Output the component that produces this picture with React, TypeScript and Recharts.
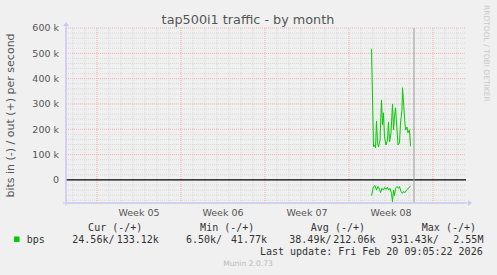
import React from "react";
import { LineChart, Line, XAxis, YAxis, ReferenceLine } from "recharts";

// hours relative to the start of Week 05
const OUT_HOURS = [549, 553, 555, 557, 559, 561, 563, 566, 569, 571, 573, 575, 578, 581, 583, 585, 588, 591, 593, 595, 597, 600, 602, 605, 607, 610, 611, 613, 615, 617, 620, 622, 625, 627];
const OUT_KBPS = [518, 132, 138, 126, 233, 146, 130, 158, 316, 217, 265, 170, 138, 158, 229, 150, 186, 300, 198, 249, 285, 198, 138, 146, 225, 277, 364, 308, 249, 198, 209, 186, 198, 133];
const IN_HOURS = [549, 553, 556, 559, 562, 565, 567, 570, 573, 575, 578, 581, 583, 586, 589, 591, 593, 595, 597, 600, 603, 605, 608, 611, 613, 616, 619, 621, 624, 627];
const IN_KBPS = [62, 26, 22, 40, 26, 37, 50, 33, 40, 30, 37, 29, 40, 33, 53, 86, 40, 62, 33, 26, 33, 26, 46, 53, 46, 50, 40, 37, 29, 25];

const WEEK_STARTS = [0, 168, 336, 504, 672];
const WEEK_TICKS = [84, 252, 420, 588];
const WEEK_LABELS = ["Week 05", "Week 06", "Week 07", "Week 08"];
const NOW_HOUR = 634;
const X_DOMAIN = [-62, 738];

const Y_TICKS = [0, 100000, 200000, 300000, 400000, 500000, 600000];
const Y_DOMAIN = [-91000, 600000];

const STAT_NAMES = ["Cur (-/+)", "Min (-/+)", "Avg (-/+)", "Max (-/+)"];
const STAT_IN = ["24.56k", "6.50k", "38.49k", "931.43k"];
const STAT_OUT = ["133.12k", "41.77k", "212.06k", "2.55M"];

const outData = OUT_HOURS.map((h, i) => ({ h, v: OUT_KBPS[i] * 1000 }));
const inData = IN_HOURS.map((h, i) => ({ h, v: -IN_KBPS[i] * 1000 }));

const minorY: number[] = [];
for (let v = -80000; v < 600000; v += 20000) if (v % 100000 !== 0) minorY.push(v);
const minorX: number[] = [];
for (let h = -48; h <= 720; h += 24) if (h % 168 !== 0) minorX.push(h);
const majorY = Y_TICKS.filter((v) => v !== 0);

const W = 497;
const H = 275;
// plot box
const PL = 66, PR = 466, PT = 28, PB = 203;

const HEAD_X = [142.3, 254.3, 365, 476];
const IN_X = [72.3, 186, 289.3, 390.7];
const OUT_X = [116.7, 231, 333.3, 453.3];

const sans = "'DejaVu Sans', sans-serif";
const mono = "'DejaVu Sans Mono', monospace";
const axisBlue = "#c8c8f0";
const minorGrid = "#d8d8d8";
const majorGrid = "#eeb0b0";

export default function App() {
  return (
    <div style={{ position: "absolute", left: 0, top: 0, width: W, height: H, background: "#f0f0f0" }}>
      <LineChart
        width={W}
        height={H}
        margin={{ top: PT, right: W - PR, bottom: 0, left: 0 }}
        style={{ fontFamily: sans }}
      >
        <XAxis
          type="number"
          dataKey="h"
          domain={X_DOMAIN}
          allowDataOverflow
          ticks={WEEK_TICKS}
          tickFormatter={(v) => WEEK_LABELS[WEEK_TICKS.indexOf(v)] ?? ""}
          tick={{ fill: "#555", fontSize: 9.5 }}
          tickLine={false}
          tickSize={0}
          tickMargin={6}
          axisLine={{ stroke: axisBlue }}
          height={H - PB}
          interval={0}
        />
        <YAxis
          type="number"
          domain={Y_DOMAIN}
          allowDataOverflow
          ticks={Y_TICKS}
          tickFormatter={(v) => (v === 0 ? "0" : `${v / 1000} k`)}
          tick={{ fill: "#555", fontSize: 9.5 }}
          tickLine={false}
          tickSize={0}
          tickMargin={7}
          axisLine={{ stroke: axisBlue }}
          width={PL}
          interval={0}
        />
        {minorY.map((v) => (
          <ReferenceLine key={`my${v}`} y={v} stroke={minorGrid} strokeDasharray="1 1" />
        ))}
        {minorX.map((h) => (
          <ReferenceLine key={`mx${h}`} x={h} stroke={minorGrid} strokeDasharray="1 1" />
        ))}
        {majorY.map((v) => (
          <ReferenceLine key={`My${v}`} y={v} stroke={majorGrid} strokeDasharray="1 1" />
        ))}
        {WEEK_STARTS.map((h) => (
          <ReferenceLine key={`Mx${h}`} x={h} stroke={majorGrid} strokeDasharray="1 1" />
        ))}
        <ReferenceLine y={0} stroke="#000" strokeWidth={1.2} />
        <ReferenceLine x={NOW_HOUR} stroke="#999" />
        <Line data={outData} dataKey="v" type="linear" stroke="#00cc00" strokeWidth={1} dot={false} isAnimationActive={false} />
        <Line data={inData} dataKey="v" type="linear" stroke="#00cc00" strokeWidth={1} dot={false} isAnimationActive={false} />
      </LineChart>
      <svg width={W} height={H} style={{ position: "absolute", left: 0, top: 0, pointerEvents: "none" }}>
        <text x={248} y={24} textAnchor="middle" fontFamily={sans} fontSize={12.8} fill="#555">
          tap500i1 traffic - by month
        </text>
        <text
          transform={`translate(14 ${(PT + PB) / 2}) rotate(-90)`}
          textAnchor="middle"
          fontFamily={sans}
          fontSize={11}
          fill="#555"
        >
          bits in (-) / out (+) per second
        </text>
        <text
          transform="translate(484 5) rotate(90)"
          fontFamily={sans}
          fontSize={7.5}
          fill="#c8c8c8"
        >
          RRDTOOL / TOBI OETIKER
        </text>
        <line x1={PL} y1={PB + 3} x2={PL} y2={PT - 2} stroke={axisBlue} />
        <polygon points={`${PL - 3},${PT - 2} ${PL + 3},${PT - 2} ${PL},${PT - 6}`} fill={axisBlue} />
        <line x1={PL - 3} y1={PB} x2={PR + 3} y2={PB} stroke={axisBlue} />
        <polygon points={`${PR + 2},${PB - 3} ${PR + 2},${PB + 3} ${PR + 6},${PB}`} fill={axisBlue} />

        {STAT_NAMES.map((s, i) => (
          <text key={s} x={HEAD_X[i]} y={231} textAnchor="end" fontFamily={mono} fontSize={10} fill="#333" xmlSpace="preserve">
            {s}
          </text>
        ))}
        <rect x={14} y={236.5} width={5.5} height={5.5} fill="#00cc00" />
        <text x={26.7} y={242.5} fontFamily={mono} fontSize={10} fill="#333">bps</text>
        {STAT_IN.map((s, i) => (
          <text key={`i${i}`} x={IN_X[i]} y={242.5} fontFamily={mono} fontSize={10} fill="#333">
            {s}/
          </text>
        ))}
        {STAT_OUT.map((s, i) => (
          <text key={`o${i}`} x={OUT_X[i]} y={242.5} fontFamily={mono} fontSize={10} fill="#333">
            {s}
          </text>
        ))}
        <text x={482.7} y={254.5} textAnchor="end" fontFamily={mono} fontSize={10} fill="#333" xmlSpace="preserve">
          Last update: Fri Feb 20 09:05:22 2026
        </text>
        <text x={248} y={266} textAnchor="middle" fontFamily={sans} fontSize={7.6} fill="#bbb">
          Munin 2.0.73
        </text>
      </svg>
    </div>
  );
}
